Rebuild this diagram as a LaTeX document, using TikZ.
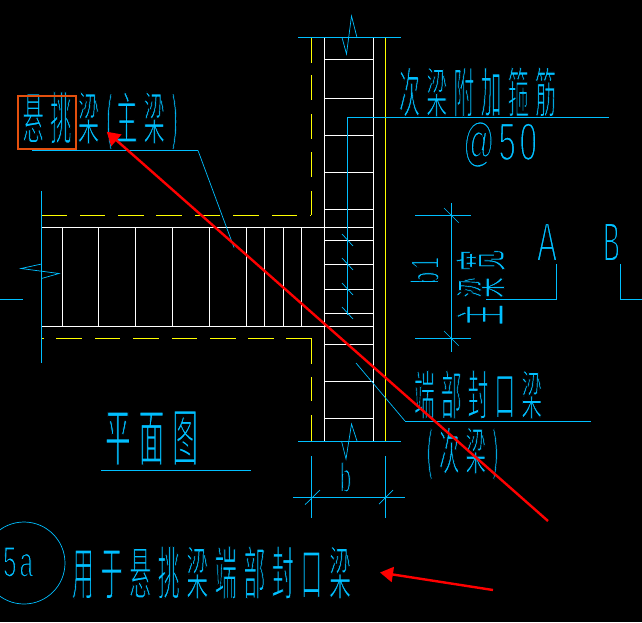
\documentclass[tikz,border=0pt]{standalone}
\usepackage{fontspec}
\usepackage{graphicx}
\usetikzlibrary{arrows.meta}
\newfontfamily\cjkfont[LetterSpace=30]{Noto Sans CJK SC}
\newfontfamily\latfont[LetterSpace=12]{Liberation Sans}
\definecolor{cadblue}{HTML}{00BFFF}
\definecolor{cadyellow}{HTML}{FFFF00}
\definecolor{cadorange}{HTML}{E4500E}
\newcommand{\thintext}{\special{pdf:code 2 Tr 0 0 0 RG 1.0 w}}
\newcommand{\thinlat}{\special{pdf:code 2 Tr 0 0 0 RG 1.4 w}}
% centre x, centre y, width, height, text
\newcommand{\cadcjk}[5]{\node[cadtext] at (#1,#2) {\resizebox{#3pt}{#4pt}{\cjkfont\fontsize{40pt}{40pt}\selectfont\thintext #5}};}
\newcommand{\cadlat}[5]{\node[cadtext] at (#1,#2) {\resizebox{#3pt}{#4pt}{\latfont\fontsize{40pt}{40pt}\selectfont\thinlat #5}};}
\tikzset{
  cadtext/.style={text=cadblue,inner sep=0pt,outer sep=0pt},
  cyanline/.style={draw=cadblue,line width=0.9pt},
  thinline/.style={draw=cadblue,line width=0.7pt},
  beamline/.style={draw=white,line width=0.9pt},
  hiddenline/.style={draw=cadyellow,line width=0.9pt},
  redarrow/.style={draw=red,line width=2.4pt,-{Triangle[length=13pt,width=15pt]}},
}
\begin{document}
\begin{tikzpicture}[x=1pt,y=-1pt]
\useasboundingbox (0,0) rectangle (642,622);
\fill[black] (0,0) rectangle (642,622);
\clip (0,0) rectangle (642,622);
% texts
\cadcjk{100.5}{121}{156}{48}{悬挑梁(\hspace{6pt}主梁)}
\cadcjk{477.5}{92}{157}{46}{次梁附加箍筋}
\cadlat{500}{144.5}{74}{39}{@50}
\cadcjk{151.5}{438}{93}{50}{平面图}
\cadcjk{478}{394.5}{128}{45}{端部封口梁}
\cadcjk{462.5}{453.5}{73}{43}{(次梁)}
\cadcjk{211.5}{572.5}{279}{49}{用于悬挑梁端部封口梁}
\cadlat{18}{562}{30}{30}{5a}
\cadlat{345.5}{477}{11}{30}{b}
\cadlat{547}{242}{20}{38}{A}
\cadlat{611.5}{242}{17}{38}{B}
\node[cadtext,rotate=90] at (424.5,270.5) {\resizebox{27pt}{29pt}{\latfont\fontsize{40pt}{40pt}\selectfont\thinlat b1}};
\node[cadtext,rotate=90] at (480.5,287.5) {\resizebox{75pt}{45pt}{\cjkfont\fontsize{40pt}{40pt}\selectfont\thintext 主梁宽}};
% white beam and column
\draw[beamline] (41.5,227) -- (324.3,227) (41.5,326) -- (324.3,326);
\foreach \x in {62,98,135,172,209,246,264,283,301} \draw[beamline] (\x,227) -- (\x,326);
\draw[beamline] (324.3,37.5) -- (324.3,441) (373.3,37.5) -- (373.3,441);
\foreach \y in {59,98,135,172,209,227,240,264,289,313,326,344,381,418} \draw[beamline] (324.3,\y) -- (373.3,\y);
% yellow hidden lines
\draw[hiddenline] (385.3,37.5) -- (385.3,441);
\foreach \a/\b in {42/67,80/105,118/144,156/182,195/220,233/259,272/297,310/311.3} \draw[hiddenline] (\a,215) -- (\b,215);
\foreach \a/\b in {37.5/62.5,75/100,114/139,152/177,191/215} \draw[hiddenline] (311.3,\a) -- (311.3,\b);
\foreach \a/\b in {42/44,56/82,95/120,133/159,172/197,210/236,248/274,286/311.3} \draw[hiddenline] (\a,338) -- (\b,338);
\foreach \a/\b in {338/363.5,377/401,415/441} \draw[hiddenline] (311.3,\a) -- (311.3,\b);
% break lines
\draw[cyanline] (41.5,191) -- (41.5,363);
\draw[thinline] (41.5,264) -- (21,268.5) -- (59,273.5) -- (41.5,278.5);
\draw[cyanline] (0,299.5) -- (23,299.5);
\draw[cyanline] (298,37.5) -- (401,37.5);
\draw[thinline] (342,37.5) -- (346.5,54) -- (351.5,16) -- (357,37.5);
\draw[cyanline] (298,441) -- (401,441);
\draw[thinline] (341.5,441) -- (346,459) -- (351.5,424) -- (357,441);
% leaders
\draw[cyanline] (32,150.5) -- (198,150.5);
\draw[thinline] (198,150.5) -- (234,247.5);
\draw[cyanline] (609,117.5) -- (347.3,117.5) -- (347.3,315);
\foreach \y in {234,258,283,307} \draw[thinline] (342,\y) -- (353,\y+12);
\draw[cyanline] (591,421) -- (405,421);
\draw[thinline] (405,421) -- (356,363);
\draw[cyanline] (101,470) -- (251,470);
% dimension b1
\draw[cyanline] (451.3,203.3) -- (451.3,351.7);
\draw[cyanline] (415,215.3) -- (471,215.3) (415,338.3) -- (471,338.3);
\draw[thinline] (444,208) -- (458.7,222.7) (444,331) -- (458.7,345.7);
% dimension b
\draw[cyanline] (293,497) -- (405,497);
\draw[cyanline] (311.3,456) -- (311.3,518) (385.3,456) -- (385.3,518);
\draw[thinline] (305,504.7) -- (320,490) (379,504) -- (393,490);
% section marks
\draw[cyanline] (556.7,264) -- (556.7,299.3) -- (486,299.3);
\draw[cyanline] (620.3,264) -- (620.3,299.3) -- (642,299.3);
% detail circle
\draw[thinline] (24,563) circle (41);
% annotations
\draw[cadorange,line width=2pt] (18,96) rectangle (76,148.5);
\coordinate (r1s) at (548,521);
\coordinate (r1t) at (106.7,131.7);
\coordinate (r2s) at (493,590);
\coordinate (r2t) at (380,572.5);
\draw[redarrow] (r1s) -- (r1t);
\draw[redarrow] (r2s) -- (r2t);
\end{tikzpicture}
\end{document}
